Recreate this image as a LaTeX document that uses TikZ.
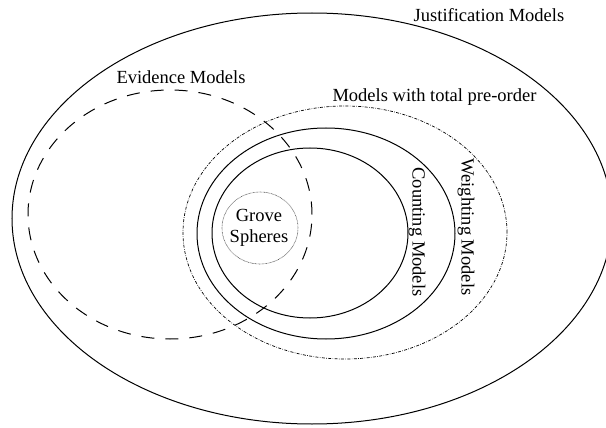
\documentclass[tikz,border=0pt]{standalone}
\usepackage{fontspec}
\setmainfont{Liberation Serif}
\usetikzlibrary{shapes.geometric}
\tikzset{
  region/.style={ellipse, inner sep=0pt, line width=1pt},
  lbl/.style={inner sep=0pt, font=\fontsize{18.5}{22}\selectfont},
}
\begin{document}
\begin{tikzpicture}[x=1pt,y=-1pt]
\useasboundingbox (0,0) rectangle (606,428);
\clip (0,0) rectangle (606,428);
% outer
\node[region, draw, minimum width=600pt, minimum height=411pt] (just) at (312,218.5) {};
% evidence (dashed)
\node[region, draw, dash pattern=on 13pt off 11pt, minimum width=284pt, minimum height=249pt] (evid) at (170,214.5) {};
% total pre-order (dash-dot)
\node[region, draw, line width=0.7pt, dash pattern=on 3pt off 1.4pt on 0.6pt off 1.4pt, minimum width=324pt, minimum height=253pt] (tpo) at (345,232.5) {};
% weighting
\node[region, draw, minimum width=258pt, minimum height=211pt] (weigh) at (326,233.5) {};
% counting
\node[region, draw, minimum width=196pt, minimum height=170pt] (count) at (310,233) {};
% grove
\node[region, draw, line width=0.6pt, draw=black!70, dash pattern=on 0.7pt off 0.7pt, minimum width=76pt, minimum height=72pt] (grove) at (260,228) {};
% labels
\node[lbl] (ljust) at (489,15) {Justification Models};
\node[lbl] (levid) at (181,77) {Evidence Models};
\node[lbl] (ltpo) at (434.5,97) {Models with total pre-order};
\node[lbl, align=center] (lgrove) at (259,227.5) {Grove\\[-1pt]Spheres};
\node[lbl, rotate=-90] (lcount) at (417,232) {Counting Models};
\node[lbl, rotate=-90] (lweigh) at (466,227) {Weighting Models};
\end{tikzpicture}
\end{document}
